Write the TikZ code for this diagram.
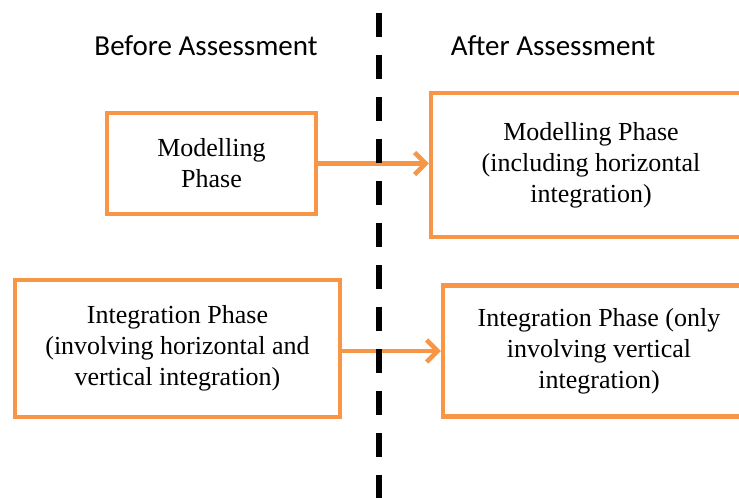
\documentclass[tikz,border=0pt]{standalone}
\usepackage{fontspec}
\setmainfont{Liberation Serif}
\newfontfamily\headfont{Carlito}
\usepackage{xcolor}
\usepackage{tikz}
\usetikzlibrary{arrows.meta,positioning}
\definecolor{phaseorange}{HTML}{F79646}
\begin{document}
\begin{tikzpicture}[
    x=1pt, y=-1pt,
    phase/.style={rectangle, draw=phaseorange, line width=4.5pt, align=center, inner sep=0pt, font=\fontsize{26}{31}\selectfont},
    heading/.style={font=\headfont\fontsize{29}{34}\selectfont},
    arrow/.style={-{Straight Barb[length=11pt,width=22pt]}, line width=4.5pt, draw=phaseorange},
    divider/.style={line width=6pt, dash pattern=on 24pt off 18pt}
]
\useasboundingbox (0,0) rectangle (739,498);
\clip (0,0) rectangle (739,498);
\node[heading] (before) at (206,46) {Before Assessment};
\node[heading] (after) at (553,46) {After Assessment};
\node[phase, minimum width=209pt, minimum height=101pt] (model) at (211.5,163.5) {Modelling\\Phase};
\node[phase, minimum width=320pt, minimum height=144pt] (modelnew) at (591,165) {Modelling Phase\\(including horizontal\\integration)};
\node[phase, minimum width=325pt, minimum height=137pt] (integ) at (177.5,348.5) {Integration Phase\\(involving horizontal and\\vertical integration)};
\node[phase, minimum width=312pt, minimum height=131pt] (integnew) at (599,351) {Integration Phase (only\\involving vertical\\integration)};
\coordinate (divtop) at (378.5,13);
\coordinate (divbot) at (378.5,498);
\draw[arrow] (model.east) -- (model.east -| modelnew.west);
\draw[arrow] (integnew.west -| integ.east) -- (integnew.west);
\draw[divider] (divtop) -- (divbot);
\end{tikzpicture}
\end{document}
